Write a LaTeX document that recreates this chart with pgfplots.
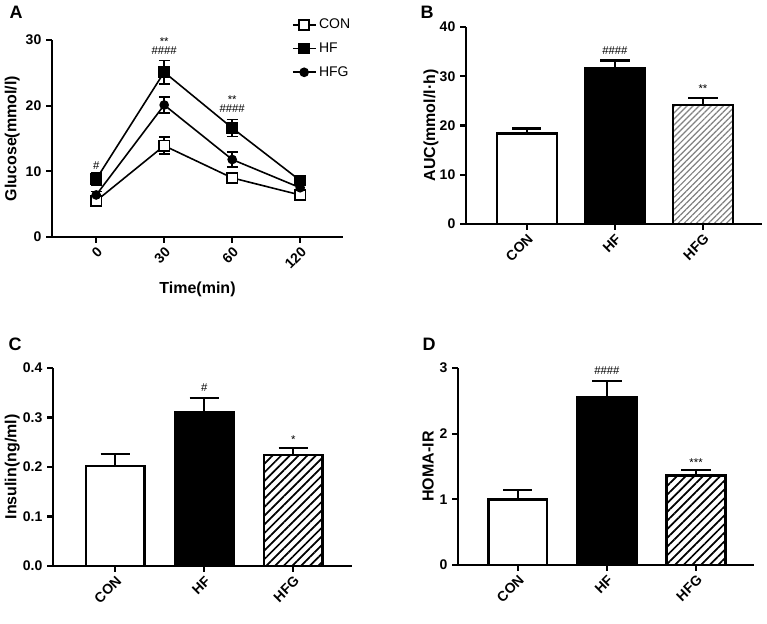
\documentclass[border=0pt]{standalone}
\usepackage{fontspec}
\setmainfont{Liberation Sans}
\usepackage{pgfplots}
\pgfplotsset{compat=1.18}
\usetikzlibrary{patterns.meta}
\newcommand{\tf}{\fontsize{10.5}{12}\selectfont\bfseries}
\newcommand{\lf}{\fontsize{12}{14}\selectfont\bfseries}
\newcommand{\af}{\fontsize{8.5}{9}\selectfont}
\pgfplotsset{
  panel/.style={
    scale only axis, anchor=south west,
    axis x line*=bottom, axis y line*=left,
    axis line style={line width=1.8pt,-},
    major tick style={line width=1.6pt, black},
    major tick length=4.5pt,
    tick align=outside,
    minor tick num=0,
    ymin=0, clip=false,
    ticklabel style={font=\tf},
    /pgf/number format/assume math mode=true,
    label style={font=\lf},
    xticklabel style={rotate=45, anchor=north east, inner sep=1.5pt},
  },
  ylab/.style={ylabel style={at={(axis description cs:#1,0.5)}, rotate=0, anchor=center}},
  barpanel/.style={panel, xtick={0,1,2}, xticklabels={CON,HF,HFG}},
  barerr/.style={error bars/.cd, y dir=plus, y explicit,
    error bar style={line width=1.6pt},
    error mark options={rotate=90, line width=1.6pt, mark size=11pt}},
  lineerr/.style={error bars/.cd, y dir=both, y explicit,
    error bar style={line width=1.2pt},
    error mark options={rotate=90, line width=1.2pt, mark size=4pt}},
}
\begin{document}
\begin{tikzpicture}
\path[use as bounding box] (0,0) rectangle (575.25pt,468pt);
% ---------- A ----------
\begin{axis}[panel, at={(39pt,290.25pt)}, width=218.25pt, height=147.75pt,
  xmin=-0.65, xmax=3.63, ymax=30, ytick={0,10,20,30},
  xtick={0,1,2,3}, xticklabels={0,30,60,120},
  xlabel={Time(min)}, xlabel style={yshift=-3.5pt},
  ylabel={Glucose(mmol/l)}, ylab=-0.137,
  legend style={at={(0.81,1.135)}, anchor=north west, draw=none, fill=none,
    font=\fontsize{10.5}{12}\selectfont, row sep=5pt},
  legend cell align=left]
\addplot[black, line width=1.2pt, mark=square*, mark size=3.8pt,
  mark options={fill=white, line width=1.1pt}, lineerr]
  coordinates {(0,5.5)+-(0,0.5) (1,13.9)+-(0,1.3) (2,9.0)+-(0,0.4) (3,6.4)+-(0,0.4)};
\addplot[black, line width=1.2pt, mark=square*, mark size=3.8pt,
  mark options={fill=black}, lineerr]
  coordinates {(0,8.8)+-(0,0.9) (1,25.1)+-(0,1.8) (2,16.6)+-(0,1.3) (3,8.6)+-(0,0.6)};
\addplot[black, line width=1.2pt, mark=*, mark size=3pt,
  mark options={fill=black}, lineerr]
  coordinates {(0,6.4)+-(0,0.5) (1,20.1)+-(0,1.2) (2,11.8)+-(0,1.1) (3,7.5)+-(0,0.4)};
\legend{CON,HF,HFG}
\node[font=\af] at (axis cs:0,10.9) {\#};
\node[font=\af] at (axis cs:1,29.7) {**};
\node[font=\af] at (axis cs:1,28.4) {\#\#\#\#};
\node[font=\af] at (axis cs:2,20.9) {**};
\node[font=\af] at (axis cs:2,19.6) {\#\#\#\#};
\end{axis}
% ---------- B ----------
\begin{axis}[barpanel, at={(349.5pt,300pt)}, width=222pt, height=147.75pt,
  xmin=-0.69, xmax=2.67, ymax=40, ytick={0,10,20,30,40},
  ylabel={AUC(mmol/l·h)}, ylab=-0.118]
\addplot[ybar, bar width=0.68, fill=white, draw=black, line width=1.8pt, barerr]
  coordinates {(0,18.4)+-(0,1.0)};
\addplot[ybar, bar width=0.68, fill=black, draw=black, line width=1.8pt, barerr]
  coordinates {(1,31.7)+-(0,1.5)};
\addplot[ybar, bar width=0.68, draw=black, line width=1.8pt,
  pattern={Lines[angle=45,distance=3.2pt,line width=0.9pt]}, pattern color=gray, barerr]
  coordinates {(2,24.2)+-(0,1.4)};
\node[font=\af] at (axis cs:1,35.3) {\#\#\#\#};
\node[font=\af] at (axis cs:2,27.4) {**};
\end{axis}
% ---------- C ----------
\begin{axis}[barpanel, at={(39.75pt,43.5pt)}, width=224.25pt, height=148.5pt,
  xmin=-0.70, xmax=2.66, ymax=0.4, ytick={0,0.1,0.2,0.3,0.4},
  yticklabel style={/pgf/number format/.cd, fixed, fixed zerofill, precision=1},
  ylabel={Insulin(ng/ml)}, ylab=-0.136]
\addplot[ybar, bar width=0.66, fill=white, draw=black, line width=1.8pt, barerr]
  coordinates {(0,0.202)+-(0,0.024)};
\addplot[ybar, bar width=0.66, fill=black, draw=black, line width=1.8pt, barerr]
  coordinates {(1,0.311)+-(0,0.029)};
\addplot[ybar, bar width=0.66, draw=black, line width=1.8pt,
  pattern={Lines[angle=45,distance=4.6pt,line width=1.3pt]}, pattern color=black, barerr]
  coordinates {(2,0.224)+-(0,0.014)};
\node[font=\af] at (axis cs:1,0.360) {\#};
\node[font=\af] at (axis cs:2,0.256) {*};
\end{axis}
% ---------- D ----------
\begin{axis}[barpanel, at={(343.5pt,44.25pt)}, width=222pt, height=147.75pt,
  xmin=-0.67, xmax=2.65, ymax=3, ytick={0,1,2,3},
  ylabel={HOMA-IR}, ylab=-0.101]
\addplot[ybar, bar width=0.66, fill=white, draw=black, line width=1.8pt, barerr]
  coordinates {(0,1.00)+-(0,0.14)};
\addplot[ybar, bar width=0.66, fill=black, draw=black, line width=1.8pt, barerr]
  coordinates {(1,2.55)+-(0,0.25)};
\addplot[ybar, bar width=0.66, draw=black, line width=1.8pt,
  pattern={Lines[angle=45,distance=4.6pt,line width=1.3pt]}, pattern color=black, barerr]
  coordinates {(2,1.36)+-(0,0.09)};
\node[font=\af] at (axis cs:1,2.96) {\#\#\#\#};
\node[font=\af] at (axis cs:2,1.56) {***};
\end{axis}
% ---------- panel letters ----------
\node[font=\fontsize{13.5}{15}\selectfont\bfseries] at (12pt,459pt) {A};
\node[font=\fontsize{13.5}{15}\selectfont\bfseries] at (320.25pt,459pt) {B};
\node[font=\fontsize{13.5}{15}\selectfont\bfseries] at (11.25pt,210pt) {C};
\node[font=\fontsize{13.5}{15}\selectfont\bfseries] at (321.75pt,210pt) {D};
\end{tikzpicture}
\end{document}
